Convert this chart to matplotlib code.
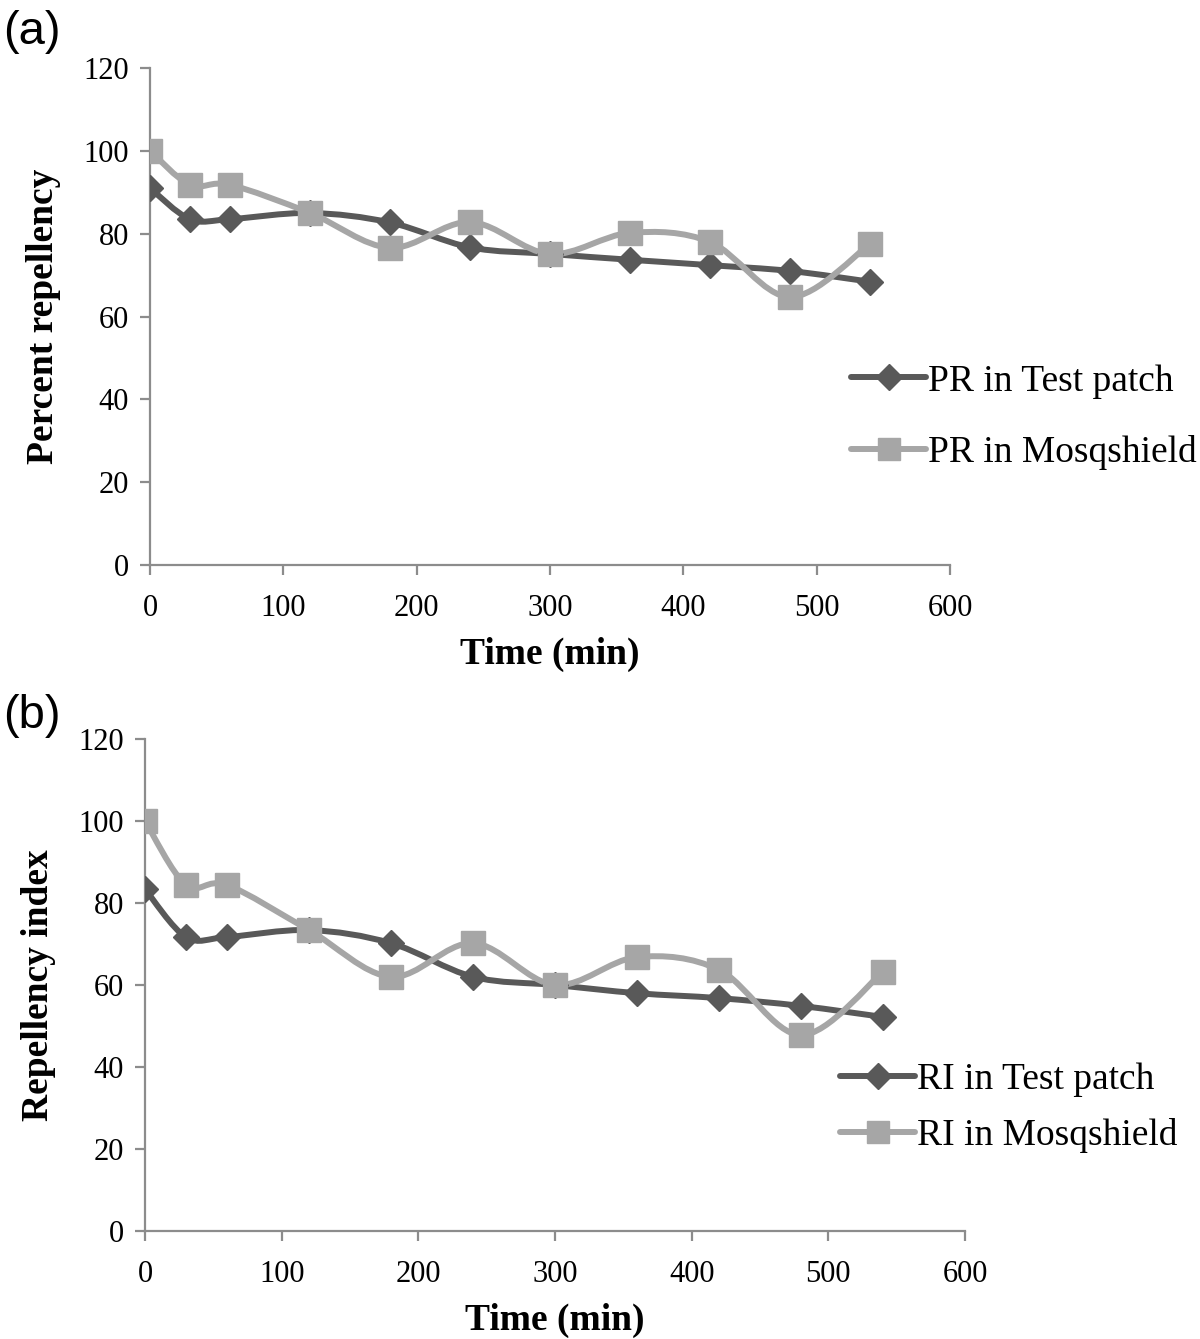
import numpy as np
import matplotlib
matplotlib.use('Agg')
import matplotlib.pyplot as plt
from matplotlib.path import Path
from matplotlib.patches import PathPatch
from matplotlib.lines import Line2D

plt.rcParams['font.family'] = ['Liberation Serif', 'DejaVu Serif']

# Data
time_min = [0, 30, 60, 120, 180, 240, 300, 360, 420, 480, 540]
pr_test = [91.0, 83.5, 83.5, 85.0, 82.7, 76.7, 75.1, 73.7, 72.4, 71.0, 68.4]
pr_mosq = [100.0, 91.8, 91.8, 85.0, 76.6, 82.8, 75.1, 80.2, 78.0, 64.7, 77.5]
ri_test = [83.4, 71.7, 71.7, 73.4, 70.2, 62.0, 60.0, 58.0, 56.8, 54.9, 52.2]
ri_mosq = [100.0, 84.4, 84.4, 73.4, 62.0, 70.2, 60.0, 66.8, 63.7, 47.8, 63.2]

dark = '#595959'
light = '#a6a6a6'
axis_gray = '#8c8c8c'


def smooth_path(x, y):
    # Excel-style smoothed line: cubic Bezier through the points (Catmull-Rom tangents)
    x = np.asarray(x, float)
    y = np.asarray(y, float)
    verts = [(x[0], y[0])]
    codes = [Path.MOVETO]
    n = len(x)
    for i in range(n - 1):
        p0 = (x[i - 1], y[i - 1]) if i > 0 else (x[i], y[i])
        p3 = (x[i + 2], y[i + 2]) if i + 2 < n else (x[i + 1], y[i + 1])
        c1 = (x[i] + (x[i + 1] - p0[0]) / 6, y[i] + (y[i + 1] - p0[1]) / 6)
        c2 = (x[i + 1] - (p3[0] - x[i]) / 6, y[i + 1] - (p3[1] - y[i]) / 6)
        verts += [c1, c2, (x[i + 1], y[i + 1])]
        codes += [Path.CURVE4] * 3
    return Path(verts, codes)


def panel(ax, ya, yb, la, lb, ylabel, legend_anchor, spacing):
    for ys, col, mk, ms in [(ya, dark, 'D', 13), (yb, light, 's', 17)]:
        ax.add_patch(PathPatch(smooth_path(time_min, ys), facecolor='none',
                               edgecolor=col, lw=4.3, capstyle='round', zorder=2))
        ax.plot(time_min, ys, linestyle='none', marker=mk, ms=ms, color=col,
                mec=col, zorder=3)
    ax.set_xlim(0, 600)
    ax.set_ylim(0, 120)
    ax.set_xticks(range(0, 601, 100))
    ax.set_yticks(range(0, 121, 20))
    for s in ['top', 'right']:
        ax.spines[s].set_visible(False)
    for s in ['left', 'bottom']:
        ax.spines[s].set_color(axis_gray)
        ax.spines[s].set_linewidth(1.6)
    ax.tick_params(axis='both', colors=axis_gray, labelcolor='black',
                   labelsize=22, width=1.6, length=7, direction='out')
    ax.tick_params(axis='x', pad=14)
    ax.tick_params(axis='y', pad=8)
    ax.set_xlabel('Time (min)', fontsize=27, fontweight='bold', labelpad=10)
    ax.set_ylabel(ylabel, fontsize=27, fontweight='bold', labelpad=16)
    handles = [Line2D([], [], color=dark, lw=4.3, marker='D', ms=13, solid_capstyle='round'),
               Line2D([], [], color=light, lw=4.3, marker='s', ms=16, solid_capstyle='round')]
    ax.legend(handles, [la, lb], loc='center left', bbox_to_anchor=legend_anchor,
              frameon=False, fontsize=27, handlelength=2.0, handletextpad=0.05,
              labelspacing=spacing, borderaxespad=0, borderpad=0)


fig = plt.figure(figsize=(12, 13.39), dpi=100)
W, H = 1200, 1339
ax1 = fig.add_axes([150 / W, 1 - 565 / H, 800 / W, 497 / H])
ax2 = fig.add_axes([145 / W, 1 - 1231 / H, 820 / W, 492 / H])

panel(ax1, pr_test, pr_mosq, 'PR in Test patch', 'PR in Mosqshield',
      'Percent repellency', ((851 - 150) / 800, (565 - 417) / 497), 0.97)
panel(ax2, ri_test, ri_mosq, 'RI in Test patch', 'RI in Mosqshield',
      'Repellency index', ((840 - 145) / 820, (1231 - 1108) / 492), 0.55)

fig.text(3 / W, 1 - 32 / H, '(a)', fontsize=34, family='Liberation Sans', va='center')
fig.text(3 / W, 1 - 716 / H, '(b)', fontsize=34, family='Liberation Sans', va='center')

fig.savefig('out.png', dpi=100)
